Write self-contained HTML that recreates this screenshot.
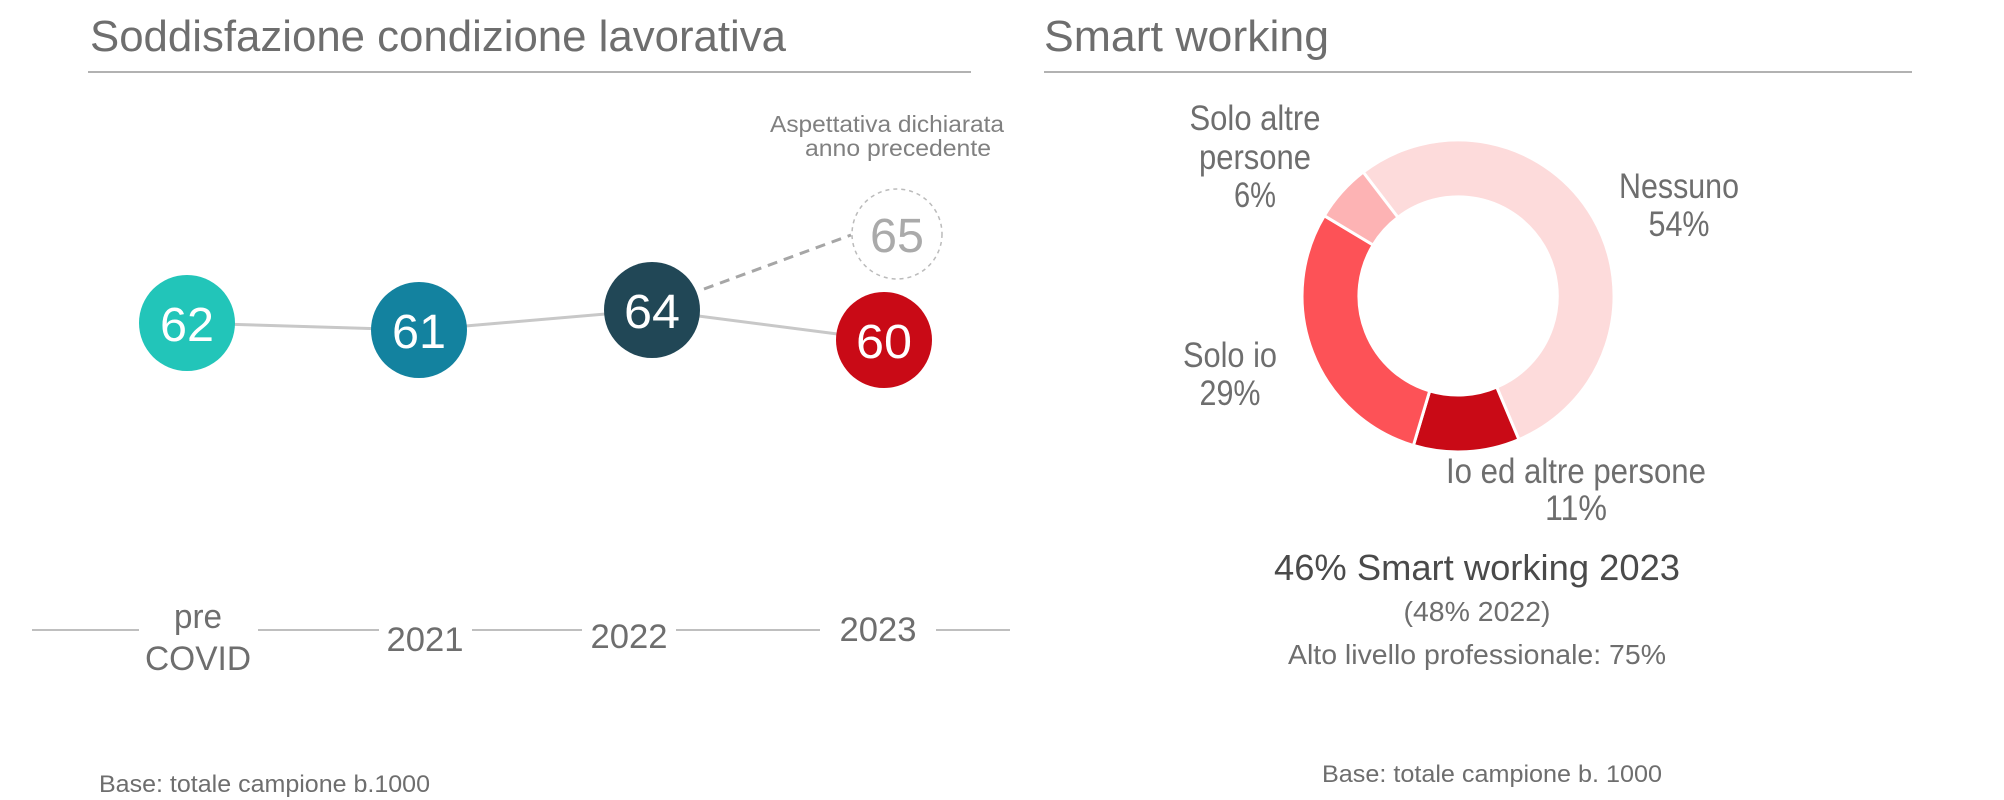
<!DOCTYPE html>
<html><head><meta charset="utf-8"><style>
html,body{margin:0;padding:0;background:#fff;}
svg{display:block;}
text{font-family:"Liberation Sans",sans-serif;}
</style></head><body>
<svg width="2004" height="800" viewBox="0 0 2004 800" xmlns="http://www.w3.org/2000/svg">
<g fill="#6e6e6e">
<!-- Left panel -->
<text x="90" y="51" font-size="44" textLength="696" lengthAdjust="spacingAndGlyphs">Soddisfazione condizione lavorativa</text>
<line x1="88" y1="72" x2="971" y2="72" stroke="#999" stroke-width="1.5"/>
<text x="1004" y="132" font-size="23" text-anchor="end" fill="#808080" textLength="234" lengthAdjust="spacingAndGlyphs">Aspettativa dichiarata</text>
<text x="991" y="156" font-size="23" text-anchor="end" fill="#808080" textLength="186" lengthAdjust="spacingAndGlyphs">anno  precedente</text>
<polyline points="187,323 419,330 652,310 884,340" fill="none" stroke="#c8c8c8" stroke-width="3"/>
<line x1="704" y1="289" x2="851" y2="235" stroke="#a6a6a6" stroke-width="3" stroke-dasharray="10,7"/>
<circle cx="897" cy="234" r="45" fill="none" stroke="#bbb" stroke-width="1.5" stroke-dasharray="4,4"/>
<text x="897" y="252" font-size="48" text-anchor="middle" fill="#aaaaaa" textLength="54" lengthAdjust="spacingAndGlyphs">65</text>
<circle cx="187" cy="323" r="48" fill="#22c5b9"/>
<text x="187" y="341" font-size="48" text-anchor="middle" fill="#fff" textLength="54" lengthAdjust="spacingAndGlyphs">62</text>
<circle cx="419" cy="330" r="48" fill="#13829f"/>
<text x="419" y="348" font-size="48" text-anchor="middle" fill="#fff" textLength="54" lengthAdjust="spacingAndGlyphs">61</text>
<circle cx="652" cy="310" r="48" fill="#214756"/>
<text x="652" y="328" font-size="48" text-anchor="middle" fill="#fff" textLength="56" lengthAdjust="spacingAndGlyphs">64</text>
<circle cx="884" cy="340" r="48" fill="#c90a16"/>
<text x="884" y="358" font-size="48" text-anchor="middle" fill="#fff" textLength="56" lengthAdjust="spacingAndGlyphs">60</text>
<g stroke="#aaa" stroke-width="1.5">
<line x1="32" y1="630" x2="139" y2="630"/>
<line x1="258" y1="630" x2="379" y2="630"/>
<line x1="472" y1="630" x2="582" y2="630"/>
<line x1="676" y1="630" x2="820" y2="630"/>
<line x1="936" y1="630" x2="1010" y2="630"/>
</g>
<text x="198" y="628" font-size="34" text-anchor="middle" textLength="48" lengthAdjust="spacingAndGlyphs">pre</text>
<text x="198" y="670" font-size="34" text-anchor="middle" textLength="106" lengthAdjust="spacingAndGlyphs">COVID</text>
<text x="425" y="651" font-size="34" text-anchor="middle" textLength="77" lengthAdjust="spacingAndGlyphs">2021</text>
<text x="629" y="648" font-size="34" text-anchor="middle" textLength="77" lengthAdjust="spacingAndGlyphs">2022</text>
<text x="878" y="641" font-size="34" text-anchor="middle" textLength="77" lengthAdjust="spacingAndGlyphs">2023</text>
<text x="99" y="792" font-size="24" textLength="331" lengthAdjust="spacingAndGlyphs">Base: totale campione b.1000</text>

<!-- Right panel -->
<text x="1044" y="51" font-size="44" textLength="285" lengthAdjust="spacingAndGlyphs">Smart  working</text>
<line x1="1044" y1="72" x2="1912" y2="72" stroke="#999" stroke-width="1.5"/>
<g stroke="#fff" stroke-width="3">
<path d="M1363.2,172.1 A156,156 0 1 1 1518.9,439.6 L1496.7,387.1 A99,99 0 1 0 1397.9,217.4 Z" fill="#fddbdb"/>
<path d="M1518.9,439.6 A156,156 0 0 1 1413.4,445.5 L1429.7,390.9 A99,99 0 0 0 1496.7,387.1 Z" fill="#c90a16"/>
<path d="M1413.4,445.5 A156,156 0 0 1 1324.3,215.7 L1373.1,245.0 A99,99 0 0 0 1429.7,390.9 Z" fill="#fd5257"/>
<path d="M1324.3,215.7 A156,156 0 0 1 1363.2,172.1 L1397.9,217.4 A99,99 0 0 0 1373.1,245.0 Z" fill="#fdb3b4"/>
</g>
<text x="1255" y="130" font-size="35" text-anchor="middle" textLength="131" lengthAdjust="spacingAndGlyphs">Solo altre</text>
<text x="1255" y="169" font-size="35" text-anchor="middle" textLength="112" lengthAdjust="spacingAndGlyphs">persone</text>
<text x="1255" y="207" font-size="35" text-anchor="middle" textLength="42" lengthAdjust="spacingAndGlyphs">6%</text>
<text x="1679" y="198" font-size="35" text-anchor="middle" textLength="120" lengthAdjust="spacingAndGlyphs">Nessuno</text>
<text x="1679" y="236" font-size="35" text-anchor="middle" textLength="61" lengthAdjust="spacingAndGlyphs">54%</text>
<text x="1230" y="367" font-size="35" text-anchor="middle" textLength="94" lengthAdjust="spacingAndGlyphs">Solo io</text>
<text x="1230" y="405" font-size="35" text-anchor="middle" textLength="61" lengthAdjust="spacingAndGlyphs">29%</text>
<text x="1576" y="483" font-size="35" text-anchor="middle" textLength="260" lengthAdjust="spacingAndGlyphs">Io ed altre persone</text>
<text x="1576" y="520" font-size="35" text-anchor="middle" textLength="62" lengthAdjust="spacingAndGlyphs">11%</text>
<text x="1477" y="580" font-size="36" text-anchor="middle" fill="#4a4a4a" textLength="406" lengthAdjust="spacingAndGlyphs">46% Smart working 2023</text>
<text x="1477" y="621" font-size="28" text-anchor="middle" textLength="147" lengthAdjust="spacingAndGlyphs">(48% 2022)</text>
<text x="1477" y="664" font-size="28" text-anchor="middle" textLength="378" lengthAdjust="spacingAndGlyphs">Alto livello professionale: 75%</text>
<text x="1492" y="782" font-size="24" text-anchor="middle" textLength="340" lengthAdjust="spacingAndGlyphs">Base: totale campione b. 1000</text>
</g>
</svg>
</body></html>
